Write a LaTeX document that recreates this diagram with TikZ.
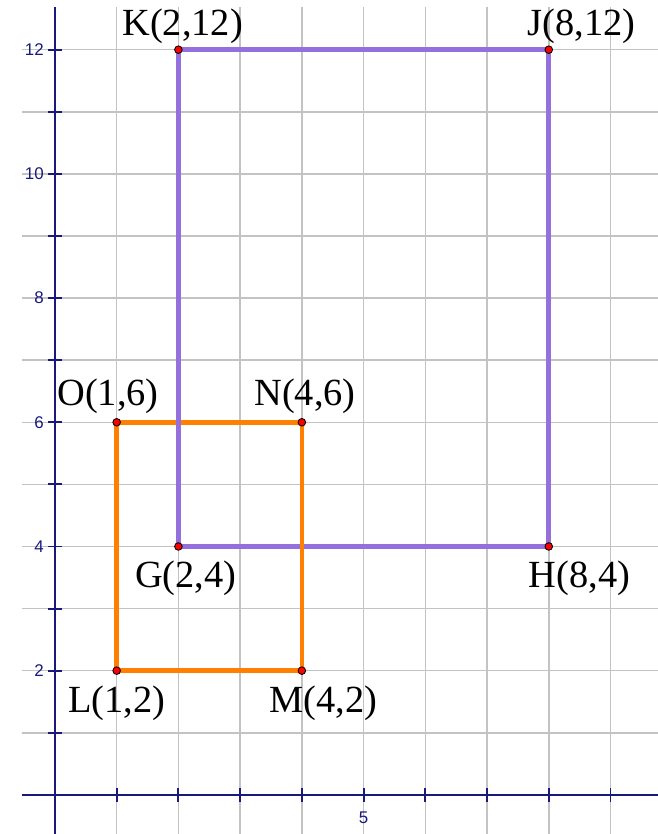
\documentclass[tikz,border=0pt]{standalone}
\usepackage{fontspec}
\setmainfont{Liberation Serif}
\newfontfamily\ticksfont{Liberation Sans}
\usepackage{xcolor}
\usetikzlibrary{positioning}

\definecolor{axisblue}{RGB}{25,25,125}
\definecolor{gridgray}{RGB}{195,195,195}
\definecolor{rectpurple}{RGB}{147,112,219}
\definecolor{sqorange}{RGB}{255,128,0}

\tikzset{
  gridline/.style={draw=gridgray, line width=0.7pt},
  axisline/.style={draw=axisblue, line width=1pt},
  tickmark/.style={draw=axisblue, line width=0.9pt},
  ticklabel/.style={text=axisblue, font=\ticksfont\fontsize{7.8}{9}\selectfont, inner sep=1pt},
  ptlabel/.style={font=\fontsize{17.7}{20}\selectfont, inner sep=0pt},
  rectside/.style={draw=rectpurple, line width=2.1pt},
  sqside/.style={draw=sqorange, line width=2.1pt},
  pt/.style={circle, draw=black, fill=red, line width=0.4pt, inner sep=0pt, minimum size=3.5pt}
}

\begin{document}
\begin{tikzpicture}[x=1cm, y=1.006cm]
  \useasboundingbox (-0.89,-0.63) rectangle (9.76,12.80);
  % grid
  \foreach \x in {1,...,9}
    \draw[gridline] (\x,-0.7) -- (\x,12.69);
  \foreach \y in {1,...,12}
    \draw[gridline] (-0.53,\y) -- (9.8,\y);
  % axes
  \draw[axisline] (-0.53,0) -- (9.8,0);
  \draw[axisline] (0,-0.7) -- (0,12.69);
  \foreach \x in {1,...,9}
    \draw[tickmark] (\x,-0.11) -- (\x,0.11);
  \foreach \y in {1,...,12}
    \draw[tickmark] (-0.11,\y) -- (0.11,\y);
  \foreach \y in {2,4,...,12}
    \node (tick\y) [ticklabel, anchor=east] at (-0.14,\y) {\y};
  \node (tickx5) [ticklabel] at (5,-0.37) {5};

  % vertices
  \coordinate (K) at (2,12);
  \coordinate (J) at (8,12);
  \coordinate (H) at (8,4);
  \coordinate (G) at (2,4);
  \coordinate (O) at (1,6);
  \coordinate (N) at (4,6);
  \coordinate (M) at (4,2);
  \coordinate (L) at (1,2);

  % sides
  \draw[sqside] (L) -- (M);
  \draw[sqside] (L) -- (O);
  \draw[sqside] (O) -- (N);
  \draw[rectside] (K) -- (J);
  \draw[rectside] (J) -- (H);
  \draw[rectside] (H) -- (G);
  \draw[rectside] (G) -- (K);
  \draw[sqside] (N) -- (M);

  \foreach \p in {K,J,H,G,O,N,M,L}
    \node[pt] (dot\p) at (\p) {};

  % labels
  \node (labK) [ptlabel] at (2.07,12.38) {K(2,12)};
  \node (labJ) [ptlabel] at (8.53,12.38) {J(8,12)};
  \node (labO) [ptlabel] at (0.86,6.42) {O(1,6)};
  \node (labN) [ptlabel] at (4.05,6.42) {N(4,6)};
  \node (labG) [ptlabel] at (2.12,3.49) {G(2,4)};
  \node (labH) [ptlabel] at (8.50,3.49) {H(8,4)};
  \node (labL) [ptlabel] at (1.00,1.47) {L(1,2)};
  \node (labM) [ptlabel] at (4.35,1.47) {M(4,2)};
\end{tikzpicture}
\end{document}
